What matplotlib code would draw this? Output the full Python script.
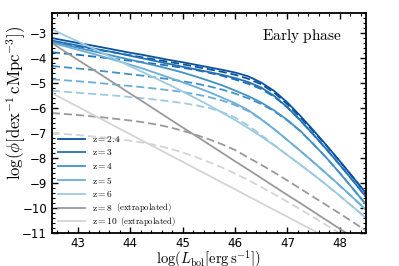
import numpy as np
import matplotlib
matplotlib.use('Agg')
import matplotlib.pyplot as plt
from matplotlib.ticker import MultipleLocator

plt.rcParams['mathtext.fontset'] = 'cm'

# ---- Data (log L_bol grid, step 0.25) ----
log_L = [42.5, 42.75, 43.0, 43.25, 43.5, 43.75, 44.0, 44.25, 44.5, 44.75,
         45.0, 45.25, 45.5, 45.75, 46.0, 46.25, 46.5, 46.75, 47.0, 47.25,
         47.5, 47.75, 48.0, 48.25, 48.5]

z_labels = ['2.4', '3', '4', '5', '6', '8', '10']
extrapolated = [False, False, False, False, False, True, True]

# solid curves
phi_z24 = [-3.20, -3.30, -3.40, -3.49, -3.59, -3.69, -3.79, -3.88, -3.98, -4.08,
           -4.17, -4.27, -4.37, -4.47, -4.58, -4.73, -4.98, -5.32, -5.78, -6.32,
           -6.90, -7.50, -8.12, -8.76, -9.40]
phi_z3 = [-3.30, -3.40, -3.50, -3.60, -3.70, -3.80, -3.91, -4.02, -4.13, -4.24,
          -4.35, -4.45, -4.56, -4.67, -4.80, -4.96, -5.18, -5.52, -5.97, -6.50,
          -7.07, -7.66, -8.27, -8.90, -9.55]
phi_z4 = [-3.35, -3.47, -3.59, -3.71, -3.83, -3.95, -4.07, -4.19, -4.31, -4.44,
          -4.58, -4.74, -4.91, -5.09, -5.30, -5.52, -5.78, -6.10, -6.48, -6.92,
          -7.45, -8.00, -8.60, -9.22, -9.85]
phi_z5 = [-3.40, -3.53, -3.67, -3.81, -3.96, -4.11, -4.27, -4.43, -4.61, -4.79,
          -4.97, -5.16, -5.36, -5.58, -5.81, -6.08, -6.45, -6.85, -7.28, -7.72,
          -8.17, -8.63, -9.10, -9.58, -10.07]
phi_z6 = [-2.85, -3.10, -3.34, -3.58, -3.83, -4.08, -4.33, -4.58, -4.83, -5.08,
          -5.34, -5.61, -5.89, -6.18, -6.48, -6.80, -7.14, -7.50, -7.88, -8.27,
          -8.67, -9.08, -9.51, -9.95, -10.40]
phi_z8 = [-3.40, -3.74, -4.08, -4.41, -4.75, -5.09, -5.43, -5.76, -6.10, -6.44,
          -6.78, -7.11, -7.45, -7.79, -8.13, -8.46, -8.80, -9.14, -9.48, -9.81,
          -10.15, -10.49, -10.83, -11.16, -11.50]
phi_z10 = [-5.40, -5.68, -5.95, -6.23, -6.50, -6.78, -7.05, -7.33, -7.60, -7.88,
           -8.15, -8.43, -8.70, -8.98, -9.25, -9.53, -9.80, -10.08, -10.35, -10.63,
           -10.90, -11.18, -11.45, -11.73, -12.00]

# dashed curves
phi_z24_d = [-3.35, -3.44, -3.53, -3.62, -3.71, -3.80, -3.89, -3.98, -4.07, -4.16,
             -4.25, -4.35, -4.45, -4.55, -4.67, -4.83, -5.05, -5.39, -5.85, -6.38,
             -6.94, -7.52, -8.13, -8.76, -9.40]
phi_z3_d = [-3.77, -3.82, -3.87, -3.93, -3.99, -4.05, -4.11, -4.17, -4.24, -4.31,
            -4.39, -4.48, -4.59, -4.71, -4.86, -5.03, -5.24, -5.55, -5.98, -6.50,
            -7.07, -7.66, -8.27, -8.90, -9.55]
phi_z4_d = [-4.32, -4.37, -4.42, -4.47, -4.53, -4.59, -4.65, -4.71, -4.78, -4.85,
            -4.93, -5.02, -5.13, -5.26, -5.42, -5.61, -5.84, -6.13, -6.50, -6.93,
            -7.45, -8.00, -8.60, -9.22, -9.85]
phi_z5_d = [-4.85, -4.89, -4.93, -4.97, -5.02, -5.07, -5.12, -5.17, -5.23, -5.29,
            -5.36, -5.45, -5.56, -5.70, -5.88, -6.12, -6.45, -6.85, -7.28, -7.72,
            -8.17, -8.63, -9.10, -9.58, -10.07]
phi_z6_d = [-5.31, -5.35, -5.39, -5.43, -5.47, -5.51, -5.56, -5.61, -5.67, -5.73,
            -5.80, -5.89, -6.00, -6.16, -6.38, -6.70, -7.08, -7.48, -7.88, -8.27,
            -8.67, -9.08, -9.51, -9.95, -10.40]
phi_z8_d = [-6.20, -6.24, -6.28, -6.33, -6.38, -6.44, -6.50, -6.57, -6.66, -6.77,
            -6.91, -7.07, -7.25, -7.45, -7.68, -7.98, -8.27, -8.58, -8.90, -9.23,
            -9.56, -9.89, -10.22, -10.56, -10.90]
phi_z10_d = [-7.00, -7.04, -7.08, -7.13, -7.18, -7.24, -7.31, -7.39, -7.49, -7.62,
             -7.78, -7.96, -8.16, -8.38, -8.62, -8.88, -9.16, -9.45, -9.75, -10.06,
             -10.37, -10.69, -11.01, -11.33, -11.65]

solid = [phi_z24, phi_z3, phi_z4, phi_z5, phi_z6, phi_z8, phi_z10]
dashed = [phi_z24_d, phi_z3_d, phi_z4_d, phi_z5_d, phi_z6_d, phi_z8_d, phi_z10_d]
colors = ['#08519c', '#2171b5', '#4292c6', '#6baed6', '#9ecae1', '#9a9a9a', '#d4d4d4']

fig = plt.figure(figsize=(3.99, 2.66), dpi=100)
ax = fig.add_axes([0.130, 0.124, 0.787, 0.827])

# dashed first so the solid lines sit on top
for d, c in zip(dashed, colors):
    ax.plot(log_L, d, color=c, lw=1.3, ls=(0, (4.5, 2.2)))

for s, c, z in zip(solid, colors, z_labels):
    ax.plot(log_L, s, color=c, lw=1.3, label=r'$\mathrm{z}=%s$' % z)

ax.set_xlim(42.5, 48.5)
ax.set_ylim(-11, -2.2)
ax.xaxis.set_major_locator(MultipleLocator(1))
ax.xaxis.set_minor_locator(MultipleLocator(0.2))
ax.yaxis.set_major_locator(MultipleLocator(1))
ax.yaxis.set_minor_locator(MultipleLocator(0.2))
ax.tick_params(which='both', direction='in', top=True, right=True, labelsize=8.5)
ax.tick_params(axis='x', pad=3)
ax.tick_params(which='major', length=4.5, width=1)
ax.tick_params(which='minor', length=2.2, width=0.8)
for sp in ax.spines.values():
    sp.set_linewidth(1.3)

ax.set_xlabel(r'$\log(L_{\mathrm{bol}}[\mathrm{erg\,s}^{-1}])$', fontsize=10.5)
ax.xaxis.set_label_coords(0.5, -0.068)
ax.set_ylabel(r'$\log(\phi[\mathrm{dex}^{-1}\,\mathrm{cMpc}^{-3}])$', fontsize=12, labelpad=0)
ax.yaxis.set_label_coords(-0.075, 0.59)
ax.text(0.924, 0.935, r'$\mathrm{Early\ phase}$', transform=ax.transAxes,
        ha='right', va='top', fontsize=11)

leg = ax.legend(loc='lower left', frameon=False, fontsize=6.8, handlelength=2.8,
                labelspacing=0.38, borderaxespad=0.3, handletextpad=0.8)

# smaller "(extrapolated)" note after the z=8 and z=10 labels
fig.canvas.draw()
to_axes = ax.transAxes.inverted()
for txt, ex in zip(leg.get_texts(), extrapolated):
    if ex:
        bb = txt.get_window_extent()
        x0, y0 = to_axes.transform((bb.x1 + 2, (bb.y0 + bb.y1) / 2))
        ax.text(x0, y0, r'$\mathrm{(extrapolated)}$', transform=ax.transAxes,
                fontsize=6.3, ha='left', va='center')

fig.savefig('out.png', dpi=100)
